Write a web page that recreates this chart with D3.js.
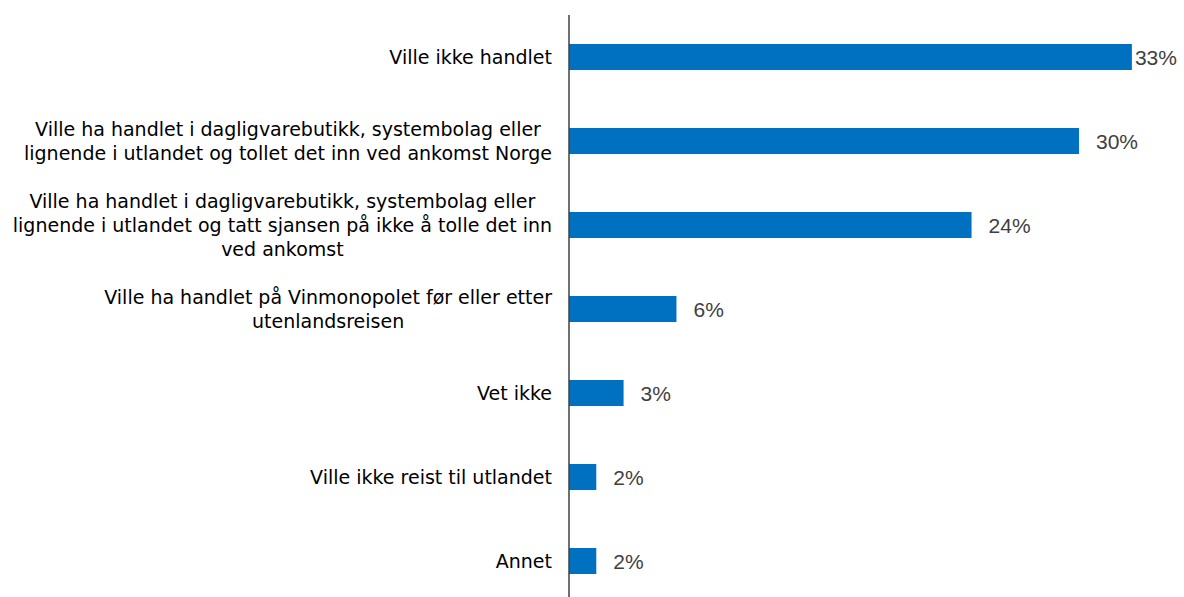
<!DOCTYPE html>
<meta charset="utf-8">
<html>
<head>
<style>
    body { margin: 0; background: #fff; }
    .cat text { font-family: "DejaVu Sans", sans-serif; font-size: 19px; fill: #000; }
    .val text { font-family: "Liberation Sans", Arial, sans-serif; font-size: 21px; fill: #404040; }
</style>
</head>
<body>
<svg width="1184" height="597"></svg>
<script src="https://d3js.org/d3.v7.min.js"></script>
<script>

    // answer categories, one entry per line of the wrapped label
    var categories = [
        ["Ville ikke handlet"],
        ["Ville ha handlet i dagligvarebutikk, systembolag eller", "lignende i utlandet og tollet det inn ved ankomst Norge"],
        ["Ville ha handlet i dagligvarebutikk, systembolag eller", "lignende i utlandet og tatt sjansen på ikke å tolle det inn", "ved ankomst"],
        ["Ville ha handlet på Vinmonopolet før eller etter", "utenlandsreisen"],
        ["Vet ikke"],
        ["Ville ikke reist til utlandet"],
        ["Annet"]
    ];
    var values = [33.0, 29.9, 23.6, 6.3, 3.2, 1.6, 1.6]; // percent

    var svg = d3.select("svg"),
        width = +svg.attr("width"),
        height = +svg.attr("height");

    var x = d3.scaleLinear().domain([0, 35]).range([569, 1166]);
    var y = d3.scalePoint().domain(d3.range(values.length)).range([57, 561]);
    var barH = 26;
    var lineH = 24;
    var labelRight = 552;

    // bars
    svg.append("g")
        .selectAll("rect")
        .data(values)
        .enter().append("rect")
        .attr("x", x(0))
        .attr("y", (d, i) => y(i) - barH / 2)
        .attr("width", d => x(d) - x(0))
        .attr("height", barH)
        .attr("fill", "#0070C0");

    // value labels
    var val = svg.append("g").attr("class", "val")
        .selectAll("text")
        .data(values)
        .enter().append("text")
        .attr("y", (d, i) => y(i))
        .attr("dy", "0.36em")
        .text(d => Math.round(d) + "%");
    val.attr("x", function(d) {
        var w = this.getComputedTextLength();
        var px = x(d) + 17;
        if (px + w > width) px = x(d) + 3;
        return px;
    });

    // category labels: block right-aligned, lines centred inside the block
    var cat = svg.append("g").attr("class", "cat");
    categories.forEach(function(lines, i) {
        var g = cat.append("g");
        var t = g.selectAll("text")
            .data(lines)
            .enter().append("text")
            .attr("y", (d, j) => y(i) + (j - (lines.length - 1) / 2) * lineH)
            .attr("dy", "0.35em")
            .attr("text-anchor", "middle")
            .text(d => d);
        var maxW = 0;
        t.each(function() { maxW = Math.max(maxW, this.getComputedTextLength()); });
        t.attr("x", labelRight - maxW / 2);
    });

    // vertical axis line
    svg.append("line")
        .attr("x1", x(0)).attr("x2", x(0))
        .attr("y1", 15).attr("y2", height)
        .attr("stroke", "#404040")
        .attr("stroke-width", 1.5);

</script>
</body>
</html>
